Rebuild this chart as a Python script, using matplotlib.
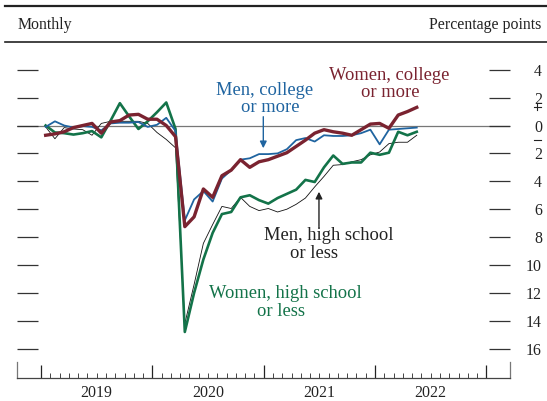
import numpy as np
import matplotlib
matplotlib.use("Agg")
import matplotlib.pyplot as plt
from matplotlib.lines import Line2D

plt.rcParams['font.family'] = ['Liberation Serif', 'DejaVu Serif']

# monthly values, Jan 2019 .. May 2022 (percentage points)
men_college = [-0.1, 0.3, 0.0, -0.15, -0.05, -0.1, -0.35, 0.15, 0.2, 0.2, 0.25, -0.1,
               0.05, 0.55, -0.4, -6.8, -5.3, -4.7, -5.45, -3.8, -3.2, -2.45, -2.35, -2.05,
               -2.05, -2.0, -1.7, -1.05, -0.9, -1.15, -0.7, -0.75, -0.75, -0.7, -0.55, -0.3,
               -1.35, -0.3, -0.25, -0.2, -0.15]
women_college = [-0.7, -0.6, -0.45, -0.15, 0.0, 0.15, -0.55, 0.25, 0.35, 0.75, 0.8, 0.45,
                 0.45, 0.0, -0.8, -7.25, -6.55, -4.55, -5.15, -3.6, -3.2, -2.45, -3.0, -2.6,
                 -2.45, -2.2, -1.95, -1.5, -1.05, -0.55, -0.3, -0.45, -0.55, -0.7, -0.3, 0.1,
                 0.15, -0.2, 0.75, 1.0, 1.3]
men_hs = [-0.1, -0.95, -0.15, -0.25, -0.3, -0.7, 0.15, 0.3, 0.3, 0.3, 0.3, 0.15,
          -0.5, -1.0, -1.6, -14.2, -11.4, -8.45, -7.1, -5.8, -5.95, -5.15, -5.8, -6.1,
          -5.95, -6.2, -6.0, -5.65, -5.2, -4.4, -3.65, -2.85, -2.8, -2.6, -2.45, -2.1,
          -1.9, -1.3, -1.2, -1.2, -0.7]
women_hs = [0.0, -0.5, -0.55, -0.65, -0.55, -0.4, -0.85, 0.35, 1.6, 0.65, -0.25, 0.3,
            0.95, 1.65, -0.25, -14.8, -12.0, -9.6, -7.7, -6.35, -6.2, -5.15, -5.0, -5.35,
            -5.6, -5.2, -4.9, -4.6, -3.9, -4.05, -3.0, -2.15, -2.75, -2.65, -2.65, -1.95,
            -2.1, -1.95, -0.45, -0.7, -0.45]

years = ['2019', '2020', '2021', '2022']
ytick_vals = [4, 2, 0, -2, -4, -6, -8, -10, -12, -14, -16]
ytick_labels = ['4', '2', '0', '2', '4', '6', '8', '10', '12', '14', '16']

blue = '#1f64a0'
red = '#7a2330'
green = '#137349'
txt = '#222222'

months = np.arange(len(men_college)) + 0.5  # mid-month positions, 0 = Jan 2019

fig = plt.figure(figsize=(5.47, 4.01), dpi=100)
ax = fig.add_axes([16.7 / 547, 23 / 401, (510 - 16.7) / 547, (378 - 50) / 401])

ax.axhline(0, color='#777777', lw=0.9, zorder=1)

ax.plot(months, men_hs, color='#111111', lw=0.6, zorder=2)
ax.plot(months, women_hs, color=green, lw=1.9, zorder=3)
ax.plot(months, men_college, color=blue, lw=1.3, zorder=4)
ax.plot(months, women_college, color=red, lw=2.4, zorder=5)

ax.set_xlim(-2.62, 50.55)
ax.set_ylim(-(378 - 125.5) / 13.95, (125.5 - 50) / 13.95)

for s in ['top', 'left', 'right']:
    ax.spines[s].set_visible(False)
ax.spines['bottom'].set_color('#444444')
ax.spines['bottom'].set_linewidth(0.9)

# x ticks: year boundaries, months
ax.set_xticks([0, 12, 24, 36, 48])
ax.set_xticks([m for m in range(1, 48) if m % 12 != 0], minor=True)
ax.tick_params(axis='x', which='major', direction='in', length=9.4, width=0.9,
               color='#222222', labelbottom=False)
ax.tick_params(axis='x', which='minor', direction='in', length=3.6, width=0.7,
               color='#444444')
for k, yr in enumerate(years):
    ax.text(12 * k + 6, -0.045, yr, transform=ax.get_xaxis_transform(),
            ha='center', va='center', fontsize=11.4, color=txt)

# end brackets of the axis
xt = ax.get_xaxis_transform()
for xe in ax.get_xlim():
    ax.add_line(Line2D([xe, xe], [0, 16 / 328], transform=xt, color='#777777',
                       lw=0.9, clip_on=False))

# y ticks on both sides, labels right
ax.set_yticks(ytick_vals)
ax.set_yticklabels(ytick_labels)
ax.tick_params(axis='y', which='major', direction='in', length=15, width=0.9,
               color='#333333', left=True, right=True, labelleft=False,
               labelright=True, pad=23, labelsize=11.4, labelcolor=txt)
for lab in ax.get_yticklabels():
    lab.set_horizontalalignment('right')

# + / - signs around zero, drawn as small strokes
W, H = 547.0, 401.0
def fig_line(xs, ys):
    fig.add_artist(Line2D([x / W for x in xs], [1 - y / H for y in ys],
                          transform=fig.transFigure, color=txt, lw=0.8))
fig_line([533.5, 540.5], [106.5, 106.5])
fig_line([537, 537], [103, 110])
fig_line([533.5, 540.5], [140, 140])

# header
fig.add_artist(Line2D([5 / W, 1], [1 - 6 / H, 1 - 6 / H], transform=fig.transFigure,
                      color='#222222', lw=1.6))
fig.add_artist(Line2D([5 / W, 1], [1 - 42 / H, 1 - 42 / H], transform=fig.transFigure,
                      color='#222222', lw=1.2))
fig.text(17.5 / W, 1 - 25 / H, 'Monthly', ha='left', va='center', fontsize=11.4, color=txt)
fig.text(541 / W, 1 - 25 / H, 'Percentage points', ha='right', va='center',
         fontsize=11.4, color=txt)

# series labels
fs = 13.3
ax.text(24.06, 2.54, 'Men, college', color=blue, fontsize=fs, ha='center', va='center')
ax.text(24.68, 1.28, 'or more', color=blue, fontsize=fs, ha='center', va='center')
ax.text(37.5, 3.57, 'Women, college', color=red, fontsize=fs, ha='center', va='center')
ax.text(37.68, 2.35, 'or more', color=red, fontsize=fs, ha='center', va='center')
ax.text(30.98, -7.85, 'Men, high school', color=txt, fontsize=fs, ha='center', va='center')
ax.text(29.47, -9.14, 'or less', color=txt, fontsize=fs, ha='center', va='center')
ax.text(26.29, -12.03, 'Women, high school', color=green, fontsize=fs, ha='center', va='center')
ax.text(25.92, -13.3, 'or less', color=green, fontsize=fs, ha='center', va='center')

ax.annotate('', xy=(23.96, -1.63), xytext=(23.96, 0.63),
            arrowprops=dict(arrowstyle='-|>', color=blue, lw=1.0, mutation_scale=10,
                            shrinkA=0, shrinkB=0))
ax.annotate('', xy=(29.96, -4.75), xytext=(29.96, -7.25),
            arrowprops=dict(arrowstyle='-|>', color='#222222', lw=1.0, mutation_scale=10,
                            shrinkA=0, shrinkB=0))

fig.savefig('out.png', dpi=100)
